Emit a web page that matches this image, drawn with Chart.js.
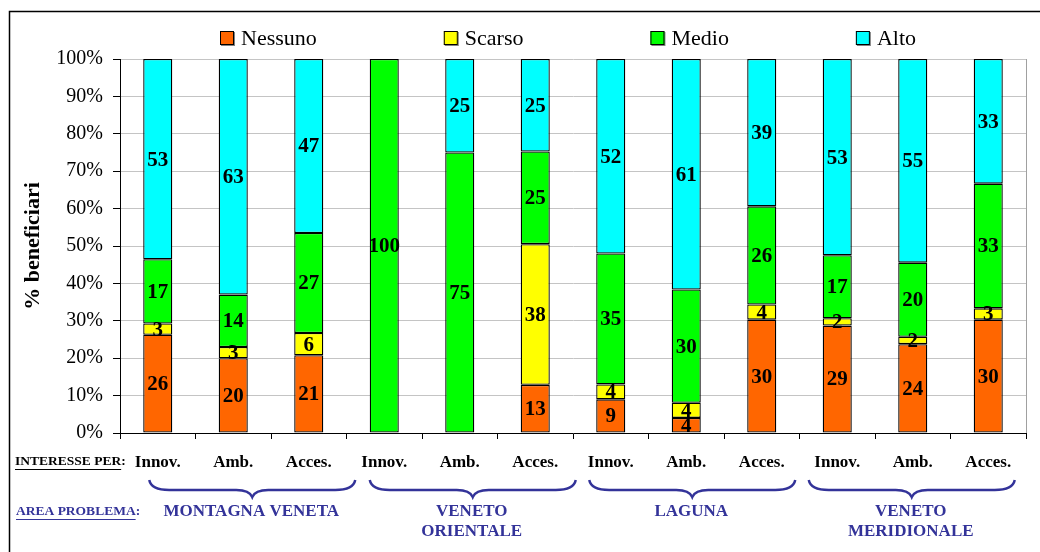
<!DOCTYPE html>
<html>
<head>
<meta charset="utf-8">
<script src="https://cdn.jsdelivr.net/npm/chart.js@4.4.0/dist/chart.umd.min.js"></script>
<style>
  html, body { margin: 0; padding: 0; background: #fff; }
  canvas { display: block; }
</style>
</head>
<body>
<canvas id="chart" width="1040" height="552"></canvas>
<script>
// Interest level of beneficiaries by problem area and topic
const categories = ['Innov.', 'Amb.', 'Acces.', 'Innov.', 'Amb.', 'Acces.',
                    'Innov.', 'Amb.', 'Acces.', 'Innov.', 'Amb.', 'Acces.'];
const areaNames = [['MONTAGNA VENETA'], ['VENETO', 'ORIENTALE'], ['LAGUNA'], ['VENETO', 'MERIDIONALE']];
const seriesNames = ['Nessuno', 'Scarso', 'Medio', 'Alto'];

const nessuno = [26, 20, 21, 0, 0, 13, 9, 4, 30, 29, 24, 30];
const scarso  = [3, 3, 6, 0, 0, 38, 4, 4, 4, 2, 2, 3];
const medio   = [17, 14, 27, 100, 75, 25, 35, 30, 26, 17, 20, 33];
const alto    = [53, 63, 47, 0, 25, 25, 52, 61, 39, 53, 55, 33];

const yTickValues = [0, 10, 20, 30, 40, 50, 60, 70, 80, 90, 100];
const yTickLabels = ['0%', '10%', '20%', '30%', '40%', '50%', '60%', '70%', '80%', '90%', '100%'];

const colors = ['#FF6600', '#FFFF00', '#00FF00', '#00FFFF'];
const BLUE = '#333399';
const SERIF = '"Liberation Serif", "Times New Roman", serif';

// 100% stacked: every column is scaled to its own total
const rawSeries = [nessuno, scarso, medio, alto];
const totals = categories.map((_, i) => rawSeries.reduce((s, arr) => s + arr[i], 0));
const share = arr => arr.map((v, i) => v / totals[i] * 100);

const datasets = seriesNames.map((name, k) => ({
    label: name,
    data: share(rawSeries[k]),
    raw: rawSeries[k],
    backgroundColor: colors[k],
    borderColor: '#000',
    borderWidth: 1.3,
    borderSkipped: false,
    barPercentage: 0.385,
    categoryPercentage: 1
}));

// outer frame + right edge of the plot
const framePlugin = {
    id: 'frame',
    beforeDraw(chart) {
        const ctx = chart.ctx;
        ctx.save();
        ctx.fillStyle = '#fff';
        ctx.fillRect(0, 0, chart.width, chart.height);
        ctx.strokeStyle = '#000';
        ctx.lineWidth = 1.5;
        ctx.strokeRect(9.5, 11.5, chart.width + 20, chart.height + 20);
        ctx.restore();
    },
    beforeDatasetsDraw(chart) {
        const { ctx, chartArea } = chart;
        ctx.save();
        ctx.strokeStyle = '#a0a0a0';
        ctx.lineWidth = 1;
        ctx.beginPath();
        ctx.moveTo(chartArea.right + 0.5, chartArea.top);
        ctx.lineTo(chartArea.right + 0.5, chartArea.bottom);
        ctx.stroke();
        ctx.restore();
    }
};

// numbers inside the bar segments
const valueLabels = {
    id: 'valueLabels',
    afterDatasetsDraw(chart) {
        const ctx = chart.ctx;
        ctx.save();
        ctx.font = 'bold 21px ' + SERIF;
        ctx.fillStyle = '#000';
        ctx.textAlign = 'center';
        ctx.textBaseline = 'middle';
        chart.data.datasets.forEach((ds, k) => {
            chart.getDatasetMeta(k).data.forEach((bar, i) => {
                const v = ds.raw[i];
                if (!v) return;
                const { x, y, base } = bar.getProps(['x', 'y', 'base'], true);
                ctx.fillText(String(v), x, (y + base) / 2 + 1);
            });
        });
        ctx.restore();
    }
};

// legend row across the top
const topLegend = {
    id: 'topLegend',
    afterDraw(chart) {
        const { ctx, chartArea } = chart;
        const box = 14, gap = 7, itemGap = 127, cy = 38;
        ctx.save();
        ctx.font = '22px ' + SERIF;
        const widths = seriesNames.map(n => box + gap + ctx.measureText(n).width);
        const total = widths.reduce((a, b) => a + b, 0) + itemGap * (seriesNames.length - 1);
        let x = (chartArea.left + chartArea.right) / 2 - 5 - total / 2;
        seriesNames.forEach((name, k) => {
            ctx.fillStyle = '#808080';
            ctx.fillRect(x + 1, cy - box / 2 + 1, box, box);
            ctx.fillStyle = colors[k];
            ctx.fillRect(x, cy - box / 2, box, box);
            ctx.strokeStyle = '#000';
            ctx.lineWidth = 1;
            ctx.strokeRect(x + 0.5, cy - box / 2 + 0.5, box - 1, box - 1);
            ctx.fillStyle = '#000';
            ctx.textAlign = 'left';
            ctx.textBaseline = 'middle';
            ctx.fillText(name, x + box + gap, cy + 1);
            x += widths[k] + itemGap;
        });
        ctx.restore();
    }
};

function underlinedText(ctx, text, suffix, x, y, color) {
    ctx.fillStyle = color;
    ctx.strokeStyle = color;
    ctx.textAlign = 'left';
    ctx.textBaseline = 'middle';
    ctx.fillText(text, x, y);
    const w = ctx.measureText(text).width;
    ctx.fillText(suffix, x + w, y);
    ctx.lineWidth = 1;
    ctx.beginPath();
    ctx.moveTo(x, y + 7.5);
    ctx.lineTo(x + w, y + 7.5);
    ctx.stroke();
}

function brace(ctx, x0, x1, cx, yTop, yMid, yTip) {
    ctx.beginPath();
    ctx.moveTo(x0, yTop);
    ctx.quadraticCurveTo(x0 + 2, yMid, x0 + 20, yMid);
    ctx.lineTo(cx - 16, yMid);
    ctx.quadraticCurveTo(cx - 3, yMid, cx, yTip);
    ctx.quadraticCurveTo(cx + 3, yMid, cx + 16, yMid);
    ctx.lineTo(x1 - 20, yMid);
    ctx.quadraticCurveTo(x1 - 2, yMid, x1, yTop);
    ctx.stroke();
}

// row captions, braces and area names under the axis
const areaPlugin = {
    id: 'areas',
    afterDraw(chart) {
        const ctx = chart.ctx;
        const xs = chart.scales.x;
        const shift = [19, 13, 6, -1];
        ctx.save();
        ctx.font = 'bold 13.5px ' + SERIF;
        underlinedText(ctx, 'INTERESSE PER', ':', 15, 462, '#000');
        underlinedText(ctx, 'AREA PROBLEMA', ':', 16, 512, BLUE);

        areaNames.forEach((lines, g) => {
            const cx = xs.getPixelForValue(g * 3 + 1) + shift[g];
            ctx.strokeStyle = BLUE;
            ctx.lineWidth = 2.5;
            brace(ctx, cx - 103, cx + 103, cx, 480, 490, 497);
            ctx.fillStyle = BLUE;
            ctx.font = 'bold 17px ' + SERIF;
            ctx.textAlign = 'center';
            ctx.textBaseline = 'middle';
            lines.forEach((t, j) => ctx.fillText(t, cx - 1, 512 + j * 20));
        });
        ctx.restore();
    }
};

new Chart(document.getElementById('chart').getContext('2d'), {
    type: 'bar',
    data: { labels: categories, datasets: datasets },
    options: {
        responsive: false,
        animation: false,
        layout: { padding: { top: 59, right: 14, left: 0, bottom: 0 } },
        plugins: {
            legend: { display: false },
            tooltip: { enabled: false }
        },
        scales: {
            x: {
                stacked: true,
                afterFit: s => { s.height = 119; },
                ticks: {
                    font: { family: SERIF, size: 17, weight: 'bold' },
                    color: '#000',
                    padding: 13,
                    maxRotation: 0,
                    autoSkip: false
                },
                grid: { drawOnChartArea: false, tickLength: 6, tickColor: '#000', offset: true },
                border: { color: '#000', width: 1 }
            },
            y: {
                stacked: true,
                min: 0,
                max: 100,
                afterFit: s => { s.width = 120; },
                afterBuildTicks: s => { s.ticks = yTickValues.map(v => ({ value: v })); },
                ticks: {
                    callback: (v, i) => yTickLabels[i],
                    font: { family: SERIF, size: 20 },
                    color: '#000',
                    padding: 10
                },
                grid: { color: '#c4c4c4', tickColor: '#000', tickLength: 7 },
                border: { color: '#000', width: 1 },
                title: {
                    display: true,
                    text: '% beneficiari',
                    font: { family: SERIF, size: 22, weight: 'bold' },
                    color: '#000',
                    padding: { top: 20, bottom: 0 }
                }
            }
        }
    },
    plugins: [framePlugin, valueLabels, topLegend, areaPlugin]
});
</script>
</body>
</html>
